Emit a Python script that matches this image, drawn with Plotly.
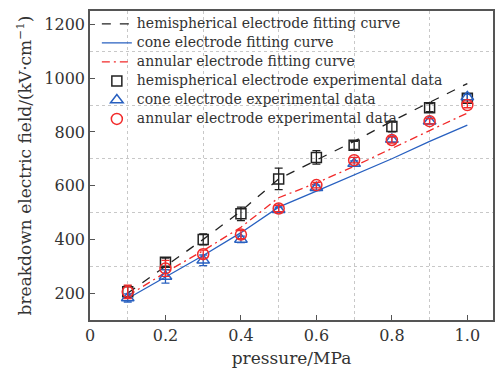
import plotly.graph_objects as go

pressure = [0.1, 0.2, 0.3, 0.4, 0.5, 0.6, 0.7, 0.8, 0.9, 1.0]

hemi_fit = [200, 300, 400, 505, 625, 695, 765, 840, 910, 980]
cone_fit = [180, 260, 340, 425, 520, 580, 640, 700, 765, 825]
annular_fit = [190, 277, 358, 445, 555, 610, 672, 740, 805, 870]

hemi_data = [205, 315, 400, 495, 625, 705, 750, 820, 890, 925]
hemi_err = [22, 15, 20, 25, 40, 25, 15, 20, 15, 15]
cone_data = [182, 262, 322, 400, 510, 592, 682, 772, 840, 930]
cone_err = [15, 25, 20, 12, 10, 10, 10, 10, 10, 10]
annular_data = [205, 292, 345, 418, 515, 602, 695, 770, 840, 900]
annular_err = [25, 30, 15, 15, 12, 10, 10, 12, 10, 10]

names = ["hemispherical electrode fitting curve",
         "cone electrode fitting curve",
         "annular electrode fitting curve",
         "hemispherical electrode experimental data",
         "cone electrode experimental data",
         "annular electrode experimental data"]

x_ticks = [0, 0.2, 0.4, 0.6, 0.8, 1.0]
x_ticklabels = ["0", "0.2", "0.4", "0.6", "0.8", "1.0"]
y_ticks = [200, 400, 600, 800, 1000, 1200]

BLACK = "#222222"
BLUE = "#2860c0"
RED = "#f22a2a"
FONT = "DejaVu Serif, serif"


def lg(name):
    return '<span style="font-size:14px">' + name + '</span>'


fig = go.Figure()
fig.add_trace(go.Scatter(x=pressure, y=hemi_fit, mode="lines", name=lg(names[0]),
                         line=dict(color=BLACK, width=1.3, dash="9px,9px")))
fig.add_trace(go.Scatter(x=pressure, y=cone_fit, mode="lines", name=lg(names[1]),
                         line=dict(color=BLUE, width=1.3)))
fig.add_trace(go.Scatter(x=pressure, y=annular_fit, mode="lines", name=lg(names[2]),
                         line=dict(color=RED, width=1.3, dash="8px,4px,2px,4px")))
fig.add_trace(go.Scatter(x=pressure, y=hemi_data, mode="markers", name=lg(names[3]),
                         marker=dict(symbol="square-open", size=10, color=BLACK, line=dict(width=1.5)),
                         error_y=dict(type="data", array=hemi_err, color=BLACK, thickness=1.3, width=4)))
fig.add_trace(go.Scatter(x=pressure, y=cone_data, mode="markers", name=lg(names[4]),
                         marker=dict(symbol="triangle-up-open", size=11, color=BLUE, line=dict(width=1.5)),
                         error_y=dict(type="data", array=cone_err, color=BLUE, thickness=1.3, width=4)))
fig.add_trace(go.Scatter(x=pressure, y=annular_data, mode="markers", name=lg(names[5]),
                         marker=dict(symbol="circle-open", size=11, color=RED, line=dict(width=1.5)),
                         error_y=dict(type="data", array=annular_err, color=RED, thickness=1.3, width=4)))

axis_common = dict(showline=True, linecolor="#555555", linewidth=1.5, mirror=True,
                   ticks="inside", ticklen=5, tickcolor="#555555", tickwidth=1.3,
                   showgrid=False, zeroline=False,
                   tickfont=dict(family=FONT, size=16, color="#333333"))

fig.update_layout(
    width=497, height=372,
    margin=dict(l=90, r=2, t=11, b=52),
    paper_bgcolor="white", plot_bgcolor="white",
    font=dict(family=FONT, color="#333333"),
    xaxis=dict(range=[0, 1.068], tickvals=x_ticks, ticktext=x_ticklabels,
               title=dict(text="pressure/MPa", font=dict(family=FONT, size=17), standoff=8),
               minor=dict(tick0=0.1, dtick=0.2, showgrid=True, gridcolor="#c8c8c8",
                          griddash="dot", gridwidth=1, ticks=""),
               **axis_common),
    yaxis=dict(range=[100, 1250], tickvals=y_ticks,
               title=dict(text="breakdown electric field/(kV·cm<sup>−1</sup>)",
                          font=dict(family=FONT, size=17), standoff=8),
               minor=dict(tick0=100, dtick=200, showgrid=True, gridcolor="#c8c8c8",
                          griddash="dot", gridwidth=1, ticks=""),
               **axis_common),
    legend=dict(x=0.017, y=1.005, xanchor="left", yanchor="top",
                bgcolor="rgba(0,0,0,0)", font=dict(family=FONT, size=11, color="#333333"),
                itemwidth=30, tracegroupgap=0),
    showlegend=True,
)

fig.write_html("out.html")
